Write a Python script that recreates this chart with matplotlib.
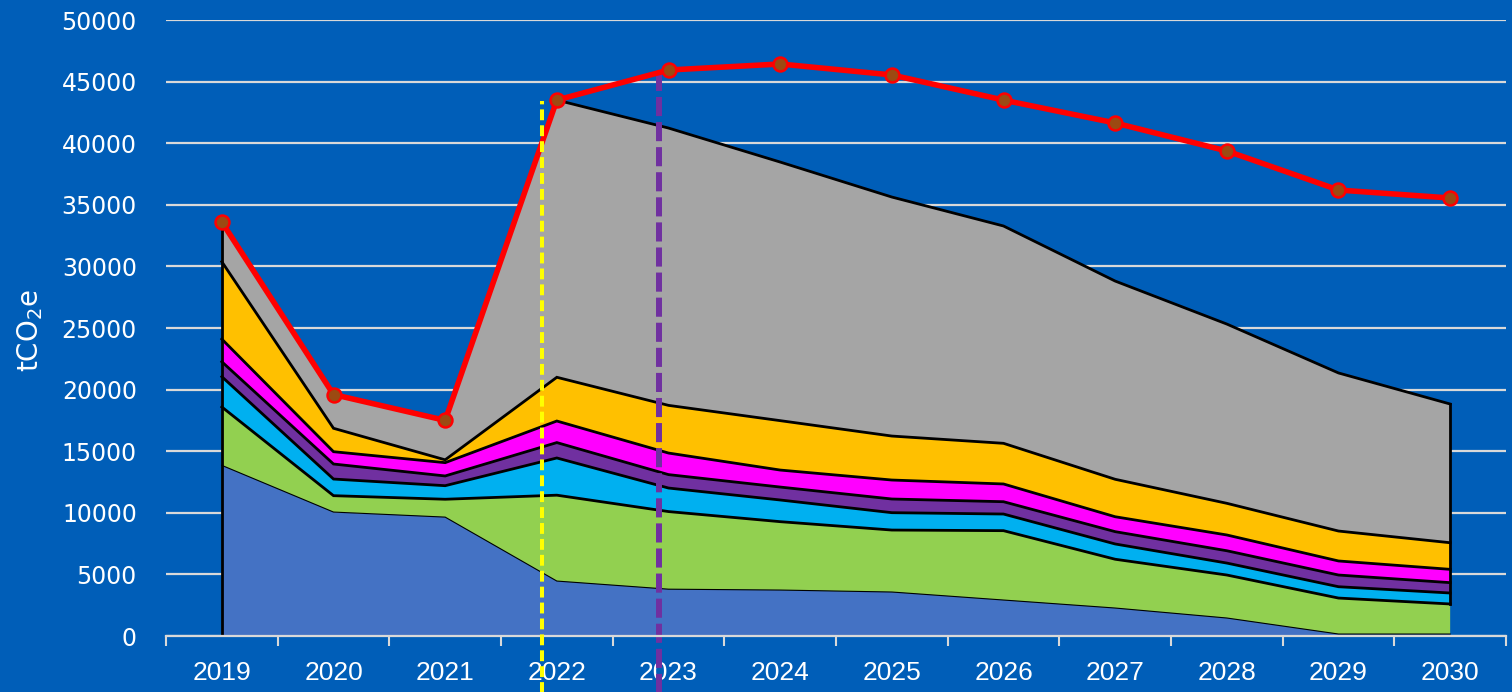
import numpy as np
import matplotlib.pyplot as plt

# categories
years = ['2019', '2020', '2021', '2022', '2023', '2024',
         '2025', '2026', '2027', '2028', '2029', '2030']

# stacked layers (tCO2e), bottom to top
layer_blue = [13850, 10060, 9650, 4460, 3800, 3730, 3570, 2920, 2270, 1460, 160, 160]
layer_green = [4740, 1330, 1450, 6970, 6300, 5550, 5030, 5630, 3960, 3490, 2920, 2440]
layer_lblue = [2460, 1350, 1100, 3020, 1910, 1760, 1410, 1350, 1240, 970, 920, 890]
layer_purple = [1210, 1220, 790, 1250, 1090, 1050, 1110, 1000, 1000, 1000, 950, 840]
layer_magenta = [1840, 1000, 1080, 1750, 1750, 1380, 1540, 1440, 1210, 1280, 1140, 1080]
layer_orange = [6280, 1900, 230, 3550, 3870, 4010, 3570, 3300, 3040, 2570, 2430, 2160]
layer_gray = [3220, 2740, 3200, 22500, 22510, 20990, 19400, 17640, 16090, 14550, 12830, 11260]

# red line
total_line = [33600, 19600, 17500, 43500, 45940, 46430, 45540, 43500, 41640, 39370, 36200, 35550]

# vertical markers (category position)
yellow_x = 2.864
purple_x = 3.914

bg = '#005EB8'
grid_c = '#D9D9D9'
colors = ['#4472C4', '#92D050', '#00B0F0', '#7030A0', '#FF00FF', '#FFC000', '#A5A5A5']

layers = [layer_blue, layer_green, layer_lblue, layer_purple,
          layer_magenta, layer_orange, layer_gray]

fig = plt.figure(figsize=(15.12, 6.92), dpi=100, facecolor=bg)
ax = fig.add_axes([166 / 1512, 56 / 692, 1340 / 1512, 616 / 692])
ax.set_facecolor(bg)

x = np.arange(len(years))
ax.stackplot(x, *layers, colors=colors, linewidth=0, zorder=2)

# black outlines on top of each layer
tops = np.cumsum(np.array(layers), axis=0)
for i, top in enumerate(tops):
    ax.plot(x, top, color='black', lw=0.8 if i == 0 else 2.0, zorder=3,
            solid_joinstyle='miter')
ax.plot([0, 0], [0, tops[-1][0]], color='black', lw=2.0, zorder=3)
ax.plot([x[-1], x[-1]], [tops[1][-1], tops[-1][-1]], color='black', lw=2.0, zorder=3)

# dashed vertical lines
ax.plot([purple_x, purple_x], [-4600, 45700], color='#7030A0', lw=4.3,
        linestyle=(0, (3.2, 1.0)), clip_on=False, zorder=4)
ax.plot([yellow_x, yellow_x], [-4600, 43400], color='#FFFF00', lw=2.9,
        linestyle=(0, (2.7, 1.25)), clip_on=False, zorder=6)

# red line
ax.plot(x, total_line, color='#FF0000', lw=4, marker='o', markersize=10,
        markerfacecolor='#9C4A12', markeredgecolor='#FF0000', markeredgewidth=1.8,
        zorder=5, clip_on=False)

ax.set_xlim(-0.5, len(years) - 0.5)
ax.set_ylim(0, 50000)
ax.set_yticks(np.arange(0, 50001, 5000))
ax.yaxis.grid(True, color=grid_c, lw=1.6, zorder=1)
ax.set_axisbelow(True)

ax.set_xticks(np.arange(-0.5, len(years), 1.0))
ax.set_xticklabels([])
ax.set_xticks(x, minor=True)
ax.set_xticklabels(years, minor=True, color='white', fontsize=19,
                   family='Liberation Sans')
ax.tick_params(axis='x', which='major', length=7, width=1.5, color=grid_c, direction='out')
ax.tick_params(axis='x', which='minor', length=0, pad=18)
ax.tick_params(axis='y', length=0, pad=21, labelcolor='white', labelsize=17)

for s in ['top', 'right', 'left']:
    ax.spines[s].set_visible(False)
ax.spines['bottom'].set_color(grid_c)
ax.spines['bottom'].set_linewidth(1.6)
ax.spines['bottom'].set_zorder(4)

fig.text(30 / 1512, 1 - 330 / 692, 'tCO$_2$e', rotation=90, color='white',
         fontsize=20, ha='center', va='center')

fig.savefig('out.png', dpi=100, facecolor=bg)
